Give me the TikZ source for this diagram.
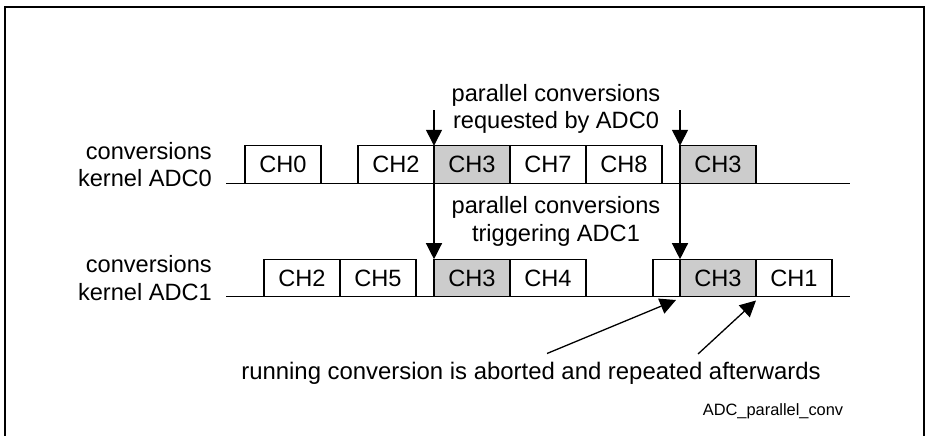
\documentclass[tikz,border=0pt]{standalone}
\usepackage{fontspec}
\setmainfont{Liberation Sans}
\usetikzlibrary{arrows.meta}
\definecolor{chgray}{RGB}{204,204,204}
\tikzset{
  chbox/.style={draw=black, line width=1.3pt, minimum width=76pt, minimum height=37.5pt,
    inner sep=0pt, outer sep=0pt, font=\fontsize{23.6}{27}\selectfont},
  hl/.style={chbox, fill=chgray},
  lbl/.style={inner sep=0pt, font=\fontsize{23.6}{27.5}\selectfont},
  conn/.style={line width=1.3pt, -{Triangle[length=16pt,width=16pt]}},
  tline/.style={line width=1.3pt}
}
\begin{document}
\begin{tikzpicture}[x=1pt,y=-1pt]
\useasboundingbox (0,0) rectangle (926,436);
% frame
\draw[line width=2pt] (5,7.5) rectangle (924,440);
% baselines
\coordinate (b0s) at (226,183.3);
\coordinate (b0e) at (850,183.3);
\coordinate (b1s) at (226,296.7);
\coordinate (b1e) at (850,296.7);
\draw[tline] (b0s) -- (b0e);
\draw[tline] (b1s) -- (b1e);
% row 0 boxes
\node[chbox] (r0ch0) at (283,164.55) {CH0};
\node[chbox] (r0ch2) at (396,164.55) {CH2};
\node[hl]    (r0ch3) at (472,164.55) {CH3};
\node[chbox] (r0ch7) at (548,164.55) {CH7};
\node[chbox] (r0ch8) at (624,164.55) {CH8};
\node[hl]    (r0ch3b) at (718,164.55) {CH3};
% row 1 boxes
\node[chbox] (r1ch2) at (302,277.95) {CH2};
\node[chbox] (r1ch5) at (378,277.95) {CH5};
\node[hl]    (r1ch3) at (472,277.95) {CH3};
\node[chbox] (r1ch4) at (548,277.95) {CH4};
\node[chbox, minimum width=27pt] (r1e) at (666.5,277.95) {};
\node[hl]    (r1ch3b) at (718,277.95) {CH3};
\node[chbox] (r1ch1) at (794,277.95) {CH1};
% left labels
\node[lbl, align=right, anchor=east] (k0) at (212,164.5) {conversions\\kernel ADC0};
\node[lbl, align=right, anchor=east] (k1) at (212,278.3) {conversions\\kernel ADC1};
% upper labels
\node[lbl, align=center] (req) at (556,109) {parallel conversions\\requested by ADC0};
\node[lbl, align=center] (trig) at (556,221.5) {parallel conversions\\triggering ADC1};
% bottom note
\node[inner sep=0pt, font=\fontsize{23.9}{27.5}\selectfont] (note) at (531,373) {running conversion is aborted and repeated afterwards};
\node[inner sep=0pt, font=\fontsize{16.4}{19}\selectfont] (tag) at (773,411.7) {ADC\_parallel\_conv};
% vertical arrows
\coordinate (a1) at (434,110);
\coordinate (a2) at (680,110);
\draw[conn] (a1) -- (r0ch3.north west);
\draw[conn] (a2) -- (r0ch3b.north west);
\draw[conn] (r0ch3.south west) -- (r1ch3.north west);
\draw[conn] (r0ch3b.south west) -- (r1ch3b.north west);
% diagonal arrows
\coordinate (d1s) at (547,353.5);
\coordinate (d2s) at (698,354);
\coordinate (d1e) at (676,300);
\coordinate (d2e) at (756,300.5);
\draw[conn] (d1s) -- (d1e);
\draw[conn] (d2s) -- (d2e);
\end{tikzpicture}
\end{document}
